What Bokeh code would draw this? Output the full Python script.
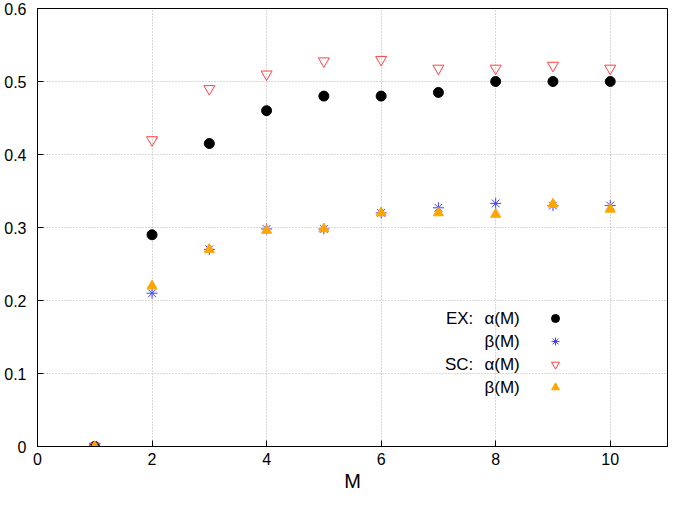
from bokeh.plotting import figure
from bokeh.models import FixedTicker, Legend, LegendItem, Label, Range1d
from bokeh.embed import file_html
from bokeh.resources import INLINE

M = [1, 2, 3, 4, 5, 6, 7, 8, 9, 10]
ex_alpha = [0.0, 0.29, 0.415, 0.46, 0.48, 0.48, 0.485, 0.50, 0.50, 0.50]
ex_beta = [0.0, 0.21, 0.27, 0.298, 0.298, 0.32, 0.327, 0.333, 0.33, 0.33]
sc_alpha = [0.0, 0.42, 0.49, 0.51, 0.528, 0.53, 0.518, 0.518, 0.522, 0.518]
sc_beta = [0.0, 0.22, 0.27, 0.296, 0.298, 0.32, 0.32, 0.318, 0.332, 0.325]

x_ticks = [0, 2, 4, 6, 8, 10]
y_ticks = [0, 0.1, 0.2, 0.3, 0.4, 0.5, 0.6]
y_tick_labels = ["0", "0.1", "0.2", "0.3", "0.4", "0.5", "0.6"]

FONT = "Liberation Sans"

p = figure(width=668, height=494, output_backend="svg", toolbar_location=None,
           x_range=Range1d(0, 11), y_range=Range1d(0, 0.6),
           min_border_left=37, min_border_right=1, min_border_top=8, min_border_bottom=0)
p.background_fill_color = "white"
p.outline_line_color = "black"
p.outline_line_width = 1

for ax in (p.xaxis[0], p.yaxis[0]):
    ax.axis_line_color = "black"
    ax.major_tick_in = 6
    ax.major_tick_out = 0
    ax.minor_tick_line_color = None
    ax.major_label_text_font = FONT
    ax.major_label_text_font_size = "16px"
    ax.major_label_text_color = "black"

p.xaxis[0].ticker = FixedTicker(ticks=x_ticks)
p.yaxis[0].ticker = FixedTicker(ticks=y_ticks)
p.yaxis[0].major_label_overrides = {t: l for t, l in zip(y_ticks, y_tick_labels)}
p.xaxis[0].axis_label = "M"
p.xaxis[0].axis_label_text_font = FONT
p.xaxis[0].axis_label_text_font_size = "20px"
p.xaxis[0].axis_label_text_font_style = "normal"
p.xaxis[0].axis_label_text_color = "black"
p.xaxis[0].axis_label_standoff = 2
p.xaxis[0].major_label_standoff = 6
p.yaxis[0].major_label_standoff = 11

for g in (p.xgrid[0], p.ygrid[0]):
    g.grid_line_color = "#b0b0b0"
    g.grid_line_dash = "1 2"
    g.grid_line_width = 1

r1 = p.scatter(M, ex_alpha, marker="circle", size=10, fill_color="black", line_color="black")
r2 = p.scatter(M, ex_beta, marker="asterisk", size=11, line_color="#4040ff", line_width=1)
r3 = p.scatter(M, sc_alpha, marker="inverted_triangle", size=11, fill_color=None, line_color="#ff4040", line_width=1)
r4 = p.scatter(M, sc_beta, marker="triangle", size=10, fill_color="#ffa500", line_color="#ffa500")

legend = Legend(items=[LegendItem(label=" ", renderers=[r]) for r in (r1, r2, r3, r4)],
                location=(508, 49), orientation="vertical",
                background_fill_alpha=0, border_line_color=None,
                glyph_width=20, glyph_height=20, label_height=20, spacing=3,
                label_text_font_size="1px", padding=10, margin=0)
p.add_layout(legend, "center")

legend_prefix = ["EX:", "", "SC:", ""]
legend_names = ["\u03b1(M)", "\u03b2(M)", "\u03b1(M)", "\u03b2(M)"]
rows_y = [0.1753, 0.1438, 0.1123, 0.0808]
for pre, name, yy in zip(legend_prefix, legend_names, rows_y):
    p.add_layout(Label(x=8.42, y=yy, text=name, text_align="right", text_baseline="middle",
                       text_font=FONT, text_font_size="17px", text_color="black"))
    if pre:
        p.add_layout(Label(x=7.61, y=yy, text=pre, text_align="right", text_baseline="middle",
                           text_font=FONT, text_font_size="17px", text_color="black"))

open("out.html", "w").write(file_html(p, INLINE))
